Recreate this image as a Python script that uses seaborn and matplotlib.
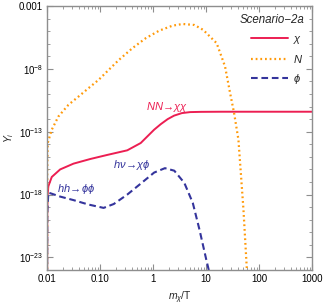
import numpy as np
import matplotlib
matplotlib.use("Agg")
import matplotlib.pyplot as plt
import seaborn as sns
from matplotlib.ticker import FixedLocator, FixedFormatter, NullFormatter

# values (x = m_chi/T, log10 of Y_i)
chi_x = [0.01, 0.0101, 0.0103, 0.0106, 0.0123, 0.0177, 0.0316, 0.0656, 0.136,
         0.327, 0.586, 1.05, 1.4, 1.89, 2.5, 3.5, 5.0, 8.0, 20.0, 100.0, 1000.0]
chi_logy = [-30, -19.5, -18.0, -17.34, -16.6, -16.0, -15.54, -15.17, -14.85,
            -14.48, -13.9, -12.84, -12.4, -12.0, -11.72, -11.52, -11.44, -11.42,
            -11.41, -11.41, -11.41]

n_x = [0.01, 0.0101, 0.0103, 0.0123, 0.0164, 0.0254, 0.0394, 0.061, 0.0944,
       0.146, 0.227, 0.407, 0.73, 1.31, 2.35, 3.64, 6.04, 8.85, 15.9, 22.9,
       28.5, 33.9, 40.9, 50.9, 58.8, 62.0]
n_logy = [-30, -16, -13.9, -12.84, -11.79, -10.86, -10.2, -9.53, -8.87,
          -8.08, -7.29, -6.36, -5.56, -4.96, -4.56, -4.43, -4.51, -4.9, -5.96,
          -7.82, -9.93, -11.52, -13.63, -19.2, -23.85, -26]

phi_x = [0.01, 0.0101, 0.0106, 0.0177, 0.0316, 0.0602, 0.117, 0.182, 0.327,
         0.586, 1.05, 1.68, 2.52, 3.9, 5.63, 7.52, 10.1, 11.2, 12.0]
phi_logy = [-30, -19.5, -17.84, -18.16, -18.44, -18.79, -19.06, -18.75, -18.0,
            -17.13, -16.25, -15.9, -16.1, -17.07, -18.66, -20.78, -23.16,
            -23.95, -25]

x_major = [0.01, 0.1, 1, 10, 100, 1000]
x_labels = ["0.01", "0.10", "1", "10", "100", "1000"]
y_major = [1e-3, 1e-8, 1e-13, 1e-18, 1e-23]
y_labels = ["0.001", r"$10^{-8}$", r"$10^{-13}$", r"$10^{-18}$", r"$10^{-23}$"]

red = "#EC1E52"
orange = "#FF9A0A"
navy = "#34349C"
frame = "#8E8E8E"

sns.set_style("ticks")
plt.rcParams['font.family'] = ['Liberation Sans', 'DejaVu Sans']
plt.rcParams['mathtext.fontset'] = 'custom'
plt.rcParams['mathtext.rm'] = 'Liberation Sans'
plt.rcParams['mathtext.it'] = 'Liberation Sans:italic'

fig = plt.figure(figsize=(3.24, 3.05), dpi=100)
ax = fig.add_axes([47 / 324, 35 / 305, 265 / 324, 264 / 305])

sns.lineplot(x=chi_x, y=10.0 ** np.array(chi_logy), ax=ax, color=red, lw=1.4,
             estimator=None, sort=False, label=r"$\chi$")
sns.lineplot(x=n_x, y=10.0 ** np.array(n_logy), ax=ax, color=orange, lw=1.6,
             linestyle=(0, (0.8, 1.3)), estimator=None, sort=False, label=r"$N$")
sns.lineplot(x=phi_x, y=10.0 ** np.array(phi_logy), ax=ax, color=navy, lw=1.5,
             linestyle=(0, (3.2, 1.8)), estimator=None, sort=False, label=r"$\phi$")

ax.set(xscale="log", yscale="log")
ax.set_xlim(0.01, 1000)
ax.set_ylim(1e-24, 1e-3)

ax.xaxis.set_major_locator(FixedLocator(x_major))
ax.xaxis.set_major_formatter(FixedFormatter(x_labels))
x_minor = [m * d for d in [0.01, 0.1, 1, 10, 100] for m in range(2, 10)]
ax.xaxis.set_minor_locator(FixedLocator(x_minor))
ax.xaxis.set_minor_formatter(NullFormatter())

ax.yaxis.set_major_locator(FixedLocator(y_major))
ax.yaxis.set_major_formatter(FixedFormatter(y_labels))
y_minor = [10.0 ** k for k in range(-24, -3) if 10.0 ** k not in y_major]
ax.yaxis.set_minor_locator(FixedLocator(y_minor))
ax.yaxis.set_minor_formatter(NullFormatter())

ax.tick_params(which="both", direction="in", top=True, right=True,
               color=frame, labelsize=7, labelcolor="black", pad=3)
ax.tick_params(which="major", length=4, width=0.8)
ax.tick_params(which="minor", length=2, width=0.6)
for sp in ax.spines.values():
    sp.set_color(frame)
    sp.set_linewidth(1.0)

ax.set_xlabel(r"$m_\chi$/T", fontsize=7.5, labelpad=4)
ax.set_ylabel(r"$Y_i$", fontsize=7.5, labelpad=2)

ax.text(1.83, 1e-11, r"$NN\!\rightarrow\!\chi\chi$", color=red, fontsize=8,
        ha="center", va="center")
ax.text(0.395, 10 ** -15.62, r"$h\nu\!\rightarrow\!\chi\phi$", color=navy,
        fontsize=8, ha="center", va="center")
ax.text(0.0356, 10 ** -17.52, r"$hh\!\rightarrow\!\phi\phi$", color=navy,
        fontsize=8, ha="center", va="center")

ax.text(0.849, 0.947, "Scenario\u22122a", transform=ax.transAxes, fontsize=8.3,
        style="italic", ha="center", va="center")
ax.legend(loc="upper left", bbox_to_anchor=(0.77, 0.893), frameon=False,
          fontsize=8, handlelength=3.3, handletextpad=0.45, labelspacing=0.62,
          borderpad=0, borderaxespad=0)

fig.savefig("out.png", dpi=100)
